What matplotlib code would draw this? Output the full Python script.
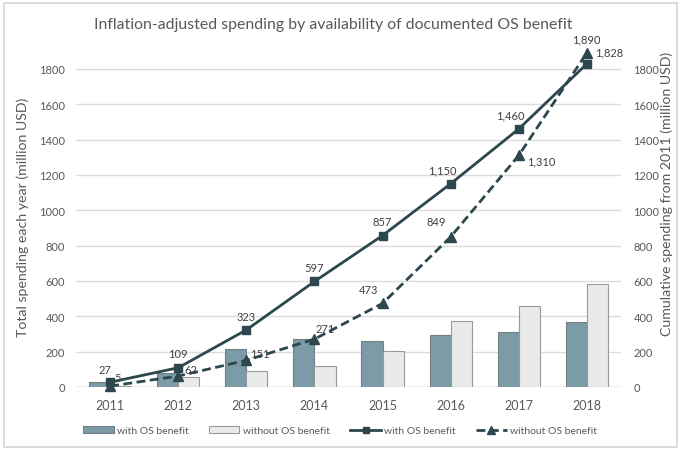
import matplotlib
matplotlib.use("Agg")
import matplotlib.pyplot as plt
import numpy as np
from matplotlib.patches import Rectangle, Patch
from matplotlib.lines import Line2D

plt.rcParams['font.family'] = ['Lato', 'DejaVu Sans']

years = ["2011", "2012", "2013", "2014", "2015", "2016", "2017", "2018"]
yearly_with = [27, 82, 214, 274, 260, 293, 310, 368]
yearly_without = [5, 57, 89, 120, 202, 376, 461, 580]
cum_with = [27, 109, 323, 597, 857, 1150, 1460, 1828]
cum_without = [5, 62, 151, 271, 473, 849, 1310, 1890]
cum_with_labels = ["27", "109", "323", "597", "857", "1,150", "1,460", "1,828"]
cum_without_labels = ["5", "62", "151", "271", "473", "849", "1,310", "1,890"]
y_ticks = [0, 200, 400, 600, 800, 1000, 1200, 1400, 1600, 1800]

BAR_WITH = "#7b9ba6"
BAR_WITHOUT = "#e9ebeb"
LINE = "#2c474d"
TEXT = "#595959"
GRID = "#dcdcdc"

fig = plt.figure(figsize=(6.8, 4.52), dpi=100)
fig.patch.set_facecolor("white")
fig.patches.append(Rectangle((0.006, 0.008), 0.99, 0.984, transform=fig.transFigure,
                             fill=False, edgecolor="#d6d6d6", linewidth=1.2))

ax = fig.add_axes([0.112, 0.1416, 0.801, 0.743])
ax2 = ax.twinx()

x = np.arange(len(years))
w = 0.31
ax.bar(x - w / 2, yearly_with, width=w, color=BAR_WITH, edgecolor="#6f7f84", linewidth=0.8, zorder=2)
ax.bar(x + w / 2, yearly_without, width=w, color=BAR_WITHOUT, edgecolor="#9a9a9a", linewidth=0.8, zorder=2)

ymax = 1900
for a in (ax, ax2):
    a.set_ylim(0, ymax)
    a.set_xlim(-0.5, len(years) - 0.5)
    a.set_yticks(y_ticks)
    a.tick_params(axis="both", length=0, colors=TEXT, labelsize=8)
    for s in ("top", "left", "right", "bottom"):
        a.spines[s].set_visible(False)

ax.set_xticks(x)
ax.set_xticklabels(years, fontsize=9)
ax.tick_params(axis="x", pad=9)
ax.tick_params(axis="y", pad=8)
ax2.tick_params(axis="y", pad=9)
ax.yaxis.grid(True, color=GRID, linewidth=1.0, zorder=0)
ax.set_axisbelow(True)
ax.axhline(0, color="#c8c8c8", linewidth=1.0, zorder=1)

ax2.plot(x, cum_with, color=LINE, linewidth=2.0, marker="s", markersize=5.5, zorder=3, clip_on=False)
ax2.plot(x, cum_without, color=LINE, linewidth=2.0, linestyle=(0, (3.2, 1.6)), marker="^",
         markersize=6.5, zorder=3, clip_on=False)

# data labels on the cumulative lines
with_offsets = [(-4, 5), (0, 6), (0, 6), (0, 6), (0, 6), (-6, 6), (-6, 6), (16, 5)]
for i, (v, t) in enumerate(zip(cum_with, cum_with_labels)):
    dx, dy = with_offsets[i]
    ax2.annotate(t, (x[i], v), xytext=(dx, dy), textcoords="offset points",
                 ha="center", va="bottom", fontsize=8, color="#404040")
without_offsets = [(5, 2), (9, 1), (10, 1), (8, 4), (-10, 6), (-10, 7), (16, -8), (0, 6)]
for i, (v, t) in enumerate(zip(cum_without, cum_without_labels)):
    dx, dy = without_offsets[i]
    ax2.annotate(t, (x[i], v), xytext=(dx, dy), textcoords="offset points",
                 ha="center", va="bottom", fontsize=8, color="#404040")

fig.text(0.033, 0.52, "Total spending each year (million USD)", rotation=90,
         ha="center", va="center", fontsize=10.2, color=TEXT)
fig.text(0.981, 0.57, "Cumulative spending from 2011 (million USD)", rotation=90,
         ha="center", va="center", fontsize=10.2, color=TEXT)

fig.text(0.49, 0.944, "Inflation-adjusted spending by availability of documented OS benefit",
         ha="center", va="center", fontsize=11.4, color=TEXT)

handles = [
    Patch(facecolor=BAR_WITH, edgecolor="#6f7f84", linewidth=0.8),
    Patch(facecolor=BAR_WITHOUT, edgecolor="#9a9a9a", linewidth=0.8),
    Line2D([], [], color=LINE, linewidth=2.0, marker="s", markersize=5),
    Line2D([], [], color=LINE, linewidth=2.0, linestyle=(0, (3.2, 1.6)), marker="^", markersize=6),
]
labels = ["with OS benefit", "without OS benefit", "with OS benefit", "without OS benefit"]
fig.legend(handles, labels, loc="center", bbox_to_anchor=(0.5, 0.045), ncol=4, frameon=False,
           fontsize=7.5, handlelength=2.9, handleheight=0.7, handletextpad=0.3,
           columnspacing=2.0, labelcolor=TEXT)

fig.savefig("out.png", dpi=100)
